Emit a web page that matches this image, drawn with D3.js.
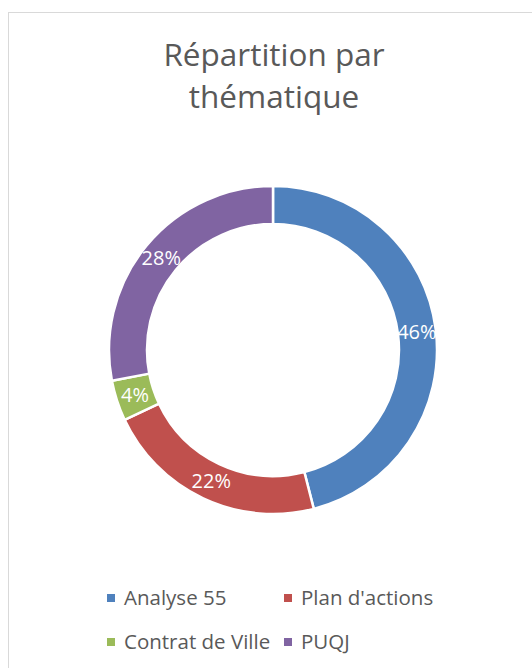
<!DOCTYPE html>
<html>
<head>
<meta charset="utf-8">
<script src="https://cdn.jsdelivr.net/npm/d3@7"></script>
<style>
  body { margin: 0; background: #fff; }
  svg { display: block; }
</style>
</head>
<body>
<svg id="chart"></svg>
<script>
const w = 532;
const h = 668;

// data
const categories = ["Analyse 55", "Plan d'actions", "Contrat de Ville", "PUQJ"];
const values = [46, 22, 4, 28];
const colors = ["#4F81BD", "#C0504D", "#9BBB59", "#8064A2"];
const titleLines = ["Répartition par", "thématique"];

const font = "'Open Sans', Lato, sans-serif";
const textColor = "#595959";

const svg = d3.select('#chart').attr('width', w).attr('height', h);

// chart area border
svg.append('rect')
  .attr('x', 8.5).attr('y', 12.5)
  .attr('width', w + 20).attr('height', h + 20)
  .attr('fill', '#fff')
  .attr('stroke', '#D9D9D9')
  .attr('stroke-width', 1);

// title
svg.append('g').selectAll('text')
  .data(titleLines)
  .join('text')
  .attr('x', 274)
  .attr('y', (d, i) => 66 + i * 42)
  .attr('text-anchor', 'middle')
  .attr('font-family', font)
  .attr('font-size', 31.5)
  .attr('fill', textColor)
  .text(d => d);

// donut
const cx = 273, cy = 350;
const outerR = 164, innerR = 126;

const pie = d3.pie().sort(null).value(d => d);
const arc = d3.arc().innerRadius(innerR).outerRadius(outerR);
const total = d3.sum(values);

const g = svg.append('g').attr('transform', `translate(${cx},${cy})`);
const arcs = pie(values);

g.selectAll('path')
  .data(arcs)
  .join('path')
  .attr('d', arc)
  .attr('fill', (d, i) => colors[i])
  .attr('stroke', '#fff')
  .attr('stroke-width', 2.5);

g.selectAll('text')
  .data(arcs)
  .join('text')
  .attr('transform', d => `translate(${arc.centroid(d)})`)
  .attr('text-anchor', 'middle')
  .attr('dy', '0.36em')
  .attr('font-family', font)
  .attr('font-size', 20)
  .attr('fill', '#fff')
  .text(d => Math.round(d.value / total * 100) + '%');

// legend
const legX = d3.scaleOrdinal().domain([0, 1]).range([107, 284]);
const legY = d3.scaleOrdinal().domain([0, 1]).range([598, 642]);

const leg = svg.append('g').selectAll('g')
  .data(categories)
  .join('g')
  .attr('transform', (d, i) => `translate(${legX(i % 2)},${legY(Math.floor(i / 2))})`);

leg.append('rect')
  .attr('x', 0).attr('y', -4)
  .attr('width', 8).attr('height', 8)
  .attr('fill', (d, i) => colors[i]);

leg.append('text')
  .attr('x', 17)
  .attr('dy', '0.36em')
  .attr('font-family', font)
  .attr('font-size', 20.5)
  .attr('fill', textColor)
  .text(d => d);
</script>
</body>
</html>
